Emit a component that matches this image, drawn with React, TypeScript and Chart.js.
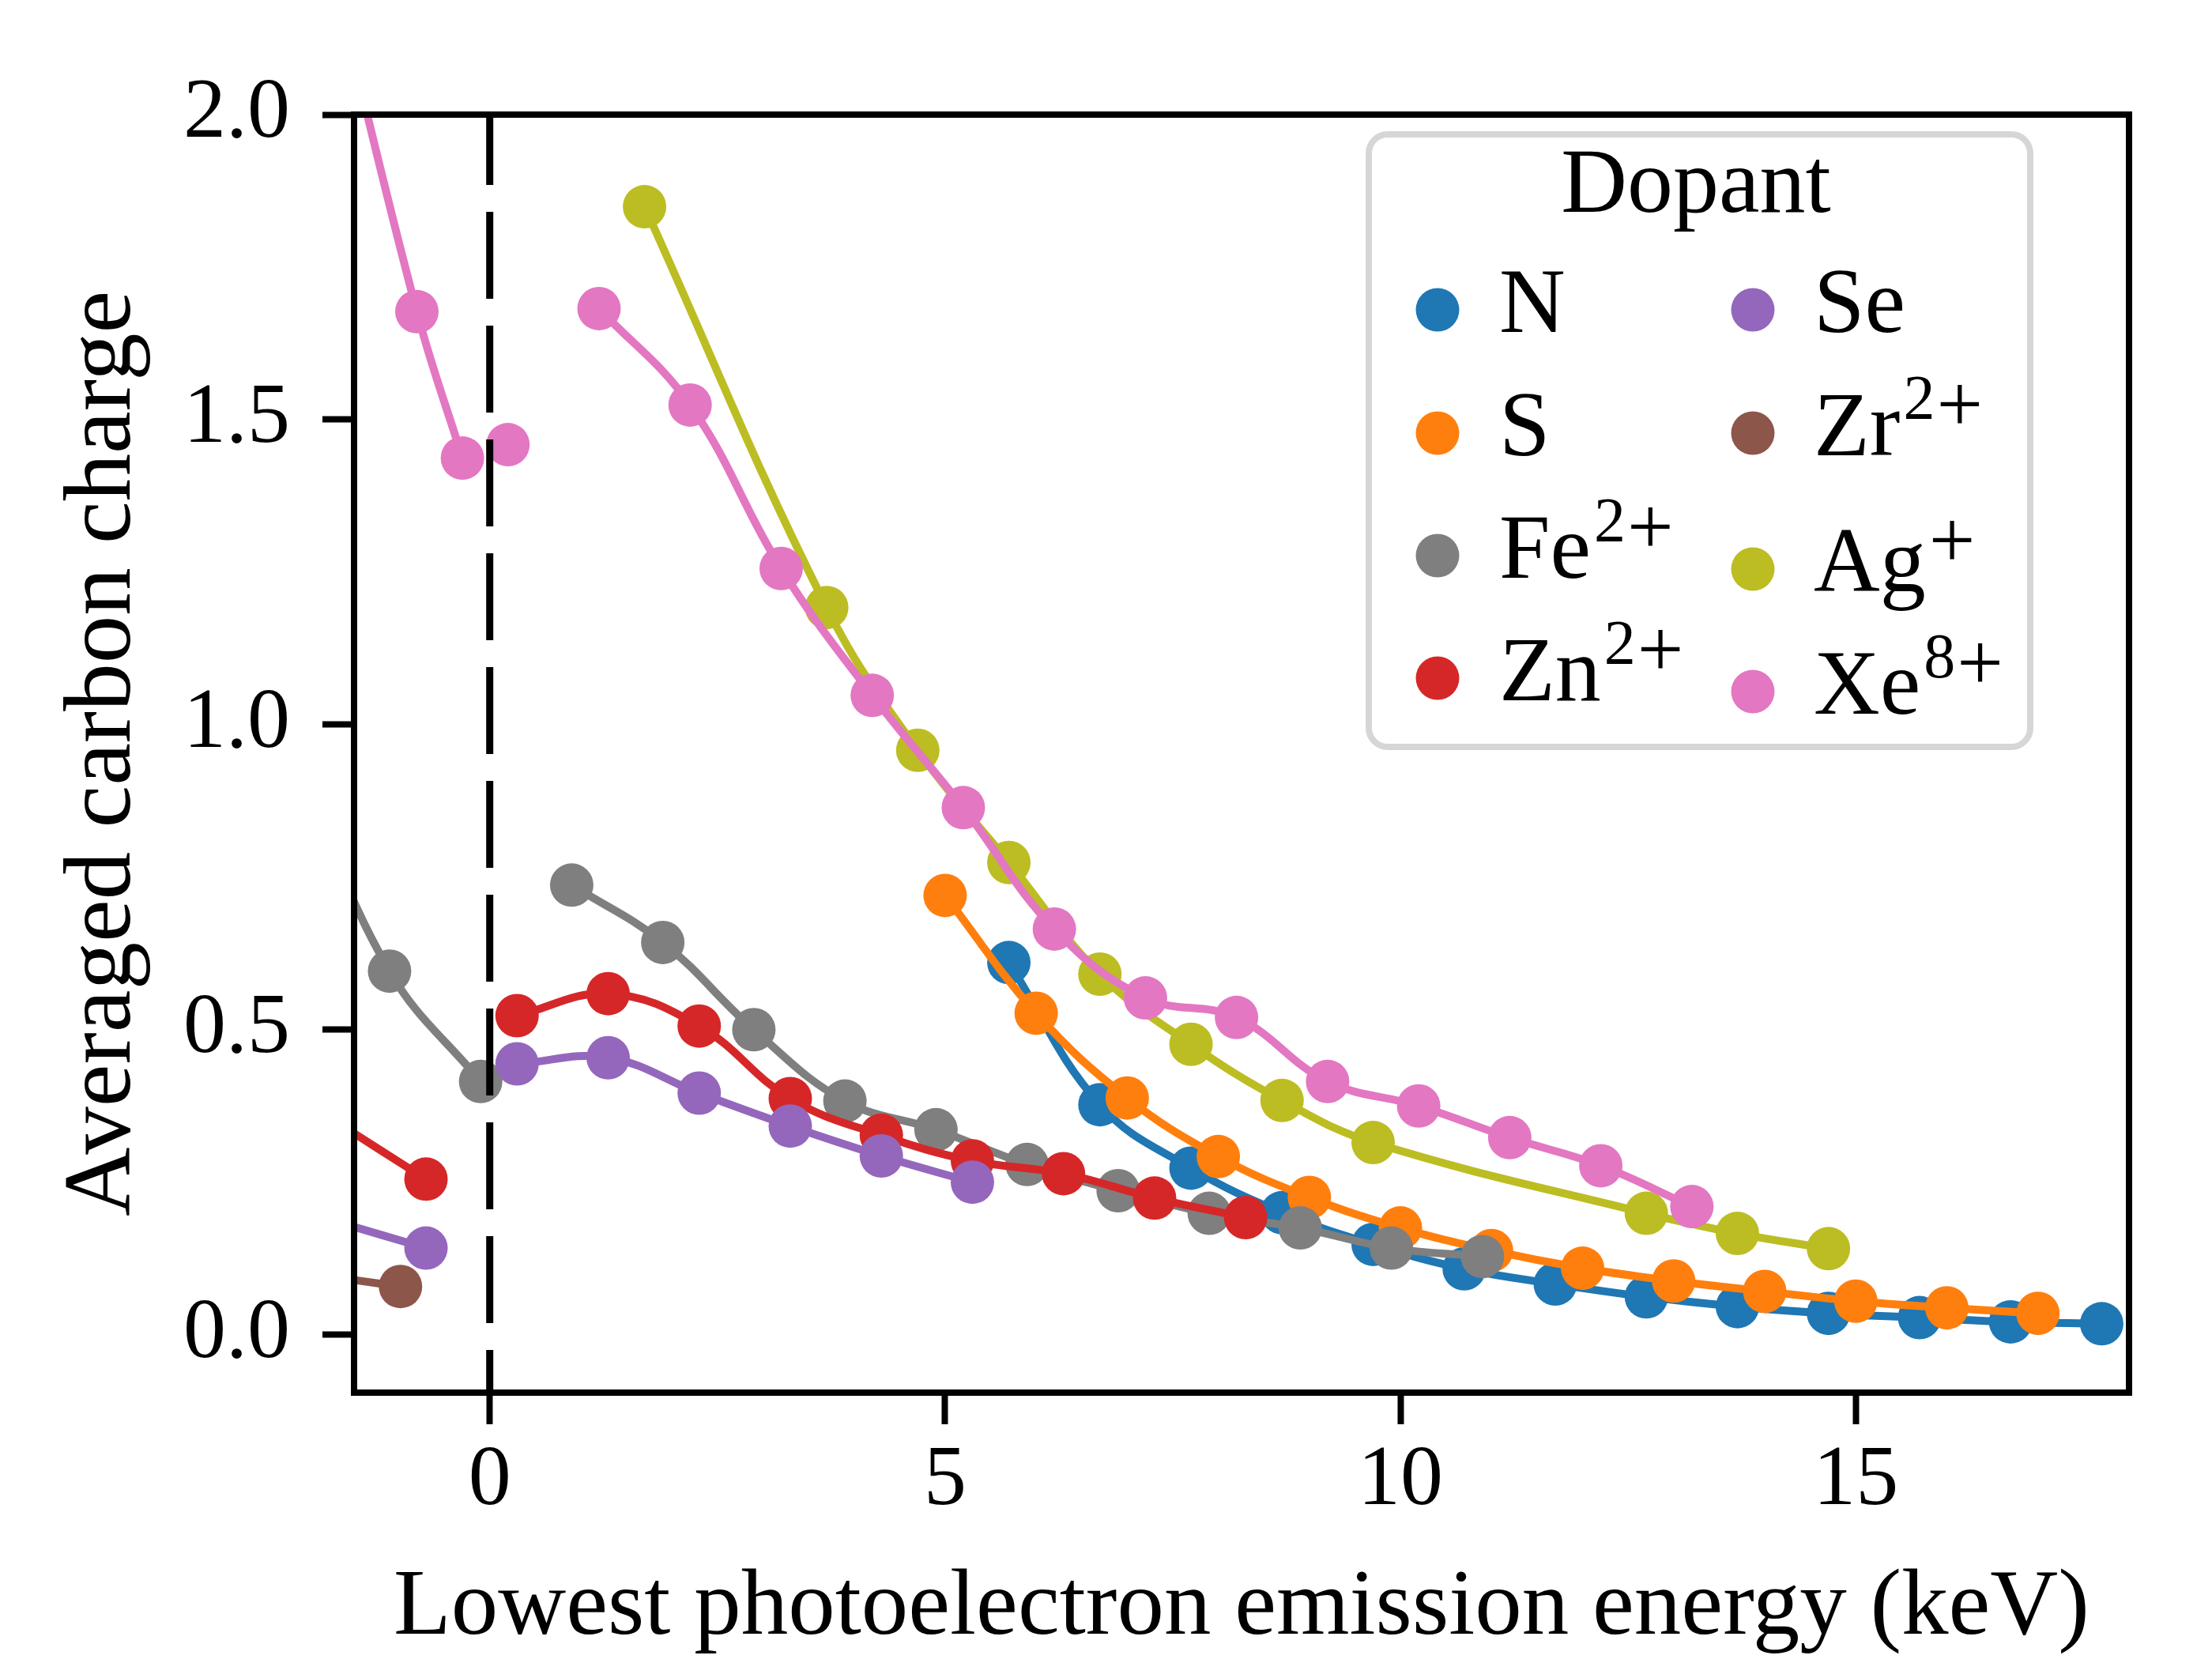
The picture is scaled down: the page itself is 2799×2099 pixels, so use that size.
import React, { useEffect, useRef } from "react";
import { Chart, registerables } from "chart.js";

Chart.register(...registerables);

// ---- data ----
const nX = [5.7, 6.7, 7.7, 8.7, 9.7, 10.7, 11.7, 12.7, 13.7, 14.7, 15.7, 16.7, 17.7];
const nY = [0.61, 0.377, 0.273, 0.2, 0.148, 0.108, 0.083, 0.062, 0.046, 0.035, 0.028, 0.021, 0.018];

const sX = [5.0, 6.0, 7.0, 8.0, 9.0, 10.0, 11.0, 12.0, 13.0, 14.0, 15.0, 16.0, 17.0];
const sY = [0.72, 0.527, 0.388, 0.292, 0.225, 0.175, 0.138, 0.109, 0.088, 0.071, 0.055, 0.044, 0.035];

const feLeftX = [-2.1, -1.1, -0.1];
const feLeftY = [0.93, 0.596, 0.415];
const feRightX = [0.9, 1.9, 2.9, 3.9, 4.9, 5.9, 6.9, 7.9, 8.9, 9.9, 10.9];
const feRightY = [0.737, 0.643, 0.5, 0.383, 0.336, 0.279, 0.236, 0.199, 0.175, 0.142, 0.128];

const znLeftX = [-1.7, -0.7];
const znLeftY = [0.35, 0.255];
const znRightX = [0.3, 1.3, 2.3, 3.3, 4.3, 5.3, 6.3, 7.3, 8.3];
const znRightY = [0.523, 0.559, 0.506, 0.387, 0.327, 0.285, 0.264, 0.224, 0.192];

const seLeftX = [-1.7, -0.7];
const seLeftY = [0.186, 0.142];
const seRightX = [0.3, 1.3, 2.3, 3.3, 4.3, 5.3];
const seRightY = [0.444, 0.454, 0.396, 0.342, 0.293, 0.25];

const zrX = [-1.98, -0.98];
const zrY = [0.1, 0.079];

const agX = [1.7, 3.7, 4.7, 5.7, 6.7, 7.7, 8.7, 9.7, 12.7, 13.7, 14.7];
const agY = [1.849, 1.192, 0.958, 0.774, 0.591, 0.476, 0.384, 0.315, 0.199, 0.166, 0.141];

const xeLeftX = [-1.8, -0.8, -0.3];
const xeLeftY = [2.28, 1.677, 1.437];
const xeMidX = [0.2];
const xeMidY = [1.459];
const xeRightX = [1.2, 2.2, 3.2, 4.2, 5.2, 6.2, 7.2, 8.2, 9.2, 10.2, 11.2, 12.2, 13.2];
const xeRightY = [1.682, 1.524, 1.256, 1.048, 0.864, 0.665, 0.552, 0.52, 0.415, 0.375, 0.323, 0.277, 0.21];

const dopantNames = ["N", "S", "Fe", "Zn", "Se", "Zr", "Ag", "Xe"];
const dopantChargeNumbers = ["", "", "2", "2", "", "2", "", "8"];
const dopantChargeSigns = ["", "", "+", "+", "", "+", "+", "+"];
const dopantColors = ["#1f77b4", "#ff7f0e", "#7f7f7f", "#d62728", "#9467bd", "#8c564b", "#bcbd22", "#e377c2"];

const xTicks = [0, 5, 10, 15];
const yTicks = [0, 0.5, 1.0, 1.5, 2.0];
const xLimits = [-1.49, 18.0];
const yLimits = [-0.095, 2.0];
const xTitle = "Lowest photoelectron emission energy (keV)";
const yTitle = "Averaged carbon charge";
const legendTitle = "Dopant";

// ---- helpers ----
type P = { x: number; y: number | null };
const seg = (xs: number[], ys: number[]): P[] => xs.map((x, i) => ({ x, y: ys[i] }));
const GAP: P = { x: 0, y: null };
const join = (...parts: P[][]): P[] => {
  const out: P[] = [];
  parts.forEach((p, i) => {
    if (i > 0) out.push(GAP);
    out.push(...p);
  });
  return out;
};

const seriesData: P[][] = [
  seg(nX, nY),
  seg(sX, sY),
  join(seg(feLeftX, feLeftY), seg(feRightX, feRightY)),
  join(seg(znLeftX, znLeftY), seg(znRightX, znRightY)),
  join(seg(seLeftX, seLeftY), seg(seRightX, seRightY)),
  seg(zrX, zrY),
  seg(agX, agY),
  join(seg(xeLeftX, xeLeftY), seg(xeMidX, xeMidY), seg(xeRightX, xeRightY)),
];

const FONT = "'Liberation Serif', 'Times New Roman', serif";

const framePlugin = {
  id: "frameAndEdge",
  afterDatasetsDraw(chart: any) {
    const { ctx, chartArea } = chart;
    const xs = chart.scales.x;
    ctx.save();
    const px = xs.getPixelForValue(0);
    ctx.beginPath();
    ctx.rect(chartArea.left, chartArea.top, chartArea.right - chartArea.left, chartArea.bottom - chartArea.top);
    ctx.clip();
    ctx.beginPath();
    ctx.setLineDash([110, 34]);
    ctx.lineDashOffset = 21;
    ctx.strokeStyle = "#000";
    ctx.lineWidth = 9;
    ctx.moveTo(px, chartArea.top);
    ctx.lineTo(px, chartArea.bottom);
    ctx.stroke();
    ctx.restore();

    ctx.save();
    ctx.strokeStyle = "#000";
    ctx.lineWidth = 8;
    ctx.setLineDash([]);
    ctx.strokeRect(chartArea.left, chartArea.top, chartArea.right - chartArea.left, chartArea.bottom - chartArea.top);
    ctx.restore();
  },
};

const legendPlugin = {
  id: "dopantLegend",
  afterDraw(chart: any) {
    const ctx = chart.ctx as CanvasRenderingContext2D;
    ctx.save();
    const bx = 1732, by = 170, bw = 2569 - 1732, bh = 945 - 170;
    ctx.beginPath();
    (ctx as any).roundRect(bx, by, bw, bh, 24);
    ctx.fillStyle = "rgba(255,255,255,0.8)";
    ctx.fill();
    ctx.lineWidth = 8;
    ctx.strokeStyle = "#d6d6d6";
    ctx.stroke();

    ctx.fillStyle = "#000";
    ctx.textBaseline = "alphabetic";
    ctx.textAlign = "center";
    ctx.font = `116px ${FONT}`;
    ctx.fillText(legendTitle, 2146, 268);

    const markerX = [1819, 2218];
    const textX = [1897, 2295];
    const rowY = [
      [392, 548, 703, 858],
      [392, 548, 720, 875],
    ];
    ctx.textAlign = "left";
    dopantNames.forEach((name, i) => {
      const col = i < 4 ? 0 : 1;
      const row = i % 4;
      const cy = rowY[col][row];
      ctx.beginPath();
      ctx.arc(markerX[col], cy, 27.5, 0, Math.PI * 2);
      ctx.fillStyle = dopantColors[i];
      ctx.fill();
      ctx.fillStyle = "#000";
      ctx.font = `116px ${FONT}`;
      const base = cy + 28;
      ctx.fillText(name, textX[col], base);
      let x = textX[col] + ctx.measureText(name).width + 4;
      const num = dopantChargeNumbers[i];
      if (num) {
        ctx.font = `80px ${FONT}`;
        ctx.fillText(num, x, base - 46);
        x += ctx.measureText(num).width + 2;
      }
      const sign = dopantChargeSigns[i];
      if (sign) {
        ctx.font = `104px ${FONT}`;
        ctx.fillText(sign, x, base - 30);
      }
    });
    ctx.restore();
  },
};

export default function App() {
  const ref = useRef<HTMLCanvasElement | null>(null);
  useEffect(() => {
    document.body.style.margin = "0";
    document.body.style.overflow = "hidden";
    const canvas = ref.current;
    if (!canvas) return;
    const chart = new Chart(canvas, {
      type: "line",
      data: {
        datasets: seriesData.map((d, i) => ({
          label: dopantNames[i] + dopantChargeNumbers[i] + dopantChargeSigns[i],
          data: d as any,
          borderColor: dopantColors[i],
          backgroundColor: dopantColors[i],
          pointBackgroundColor: dopantColors[i],
          pointBorderWidth: 0,
          pointRadius: 27.5,
          borderWidth: 10,
          tension: 0.4,
          spanGaps: false,
          fill: false,
          clip: 0 as any,
          order: -i,
        })),
      },
      options: {
        responsive: false,
        devicePixelRatio: 1,
        animation: false,
        events: [],
        layout: { padding: { top: 145, right: 105, left: 0, bottom: 0 } },
        elements: { line: { capBezierPoints: false } },
        plugins: {
          legend: { display: false },
          tooltip: { enabled: false },
          title: { display: false },
        },
        scales: {
          x: {
            type: "linear",
            min: xLimits[0],
            max: xLimits[1],
            afterFit: (s: any) => {
              s.height = 337;
            },
            afterBuildTicks: (s: any) => {
              s.ticks = xTicks.map((v) => ({ value: v }));
            },
            border: { display: false },
            grid: {
              display: true,
              drawOnChartArea: false,
              drawTicks: true,
              tickLength: 40,
              tickWidth: 8,
              tickColor: "#000",
            },
            ticks: {
              color: "#000",
              font: { family: FONT, size: 108 },
              padding: 8,
              maxRotation: 0,
              autoSkip: false,
              callback: (v: any) => String(v),
            },
            title: {
              display: true,
              text: xTitle,
              color: "#000",
              font: { family: FONT, size: 119, lineHeight: 1 },
              padding: { top: 0, bottom: 4 },
            },
          },
          y: {
            type: "linear",
            min: yLimits[0],
            max: yLimits[1],
            afterFit: (s: any) => {
              s.width = 448;
            },
            afterBuildTicks: (s: any) => {
              s.ticks = yTicks.map((v) => ({ value: v }));
            },
            border: { display: false },
            grid: {
              display: true,
              drawOnChartArea: false,
              drawTicks: true,
              tickLength: 40,
              tickWidth: 8,
              tickColor: "#000",
            },
            ticks: {
              color: "#000",
              font: { family: FONT, size: 108 },
              padding: 41,
              autoSkip: false,
              callback: (v: any) => Number(v).toFixed(1),
            },
            title: {
              display: true,
              text: yTitle,
              color: "#000",
              font: { family: FONT, size: 121, lineHeight: 1 },
              padding: { top: 72, bottom: 0 },
            },
          },
        },
      },
      plugins: [framePlugin, legendPlugin],
    });
    return () => chart.destroy();
  }, []);

  return (
    <div style={{ position: "absolute", left: 0, top: 0, width: 2799, height: 2099, background: "#fff" }}>
      <canvas ref={ref} width={2799} height={2099} style={{ width: 2799, height: 2099, display: "block" }} />
    </div>
  );
}
